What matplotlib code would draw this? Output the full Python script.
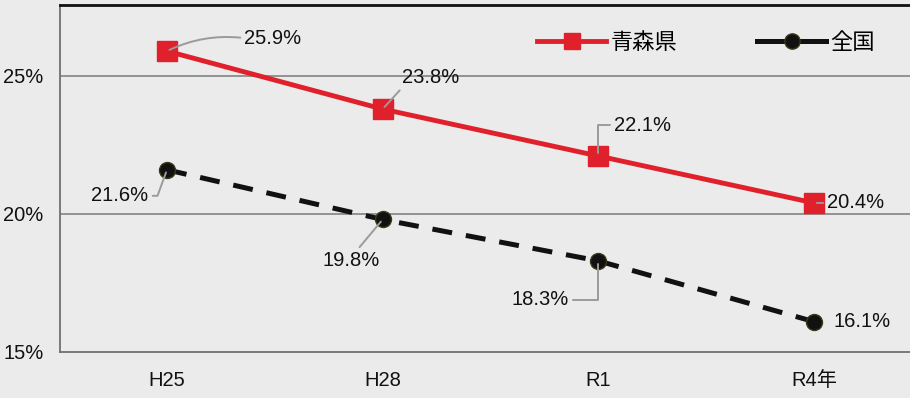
import numpy as np
import matplotlib.pyplot as plt

years = ["H25", "H28", "R1", "R4年"]
aomori = [25.9, 23.8, 22.1, 20.4]
national = [21.6, 19.8, 18.3, 16.1]
series_names = ["青森県", "全国"]

# label offsets from each marker (pixels) and leader line settings
aomori_offsets = [(106, 13), (48, 32), (44, 31), (42, 0)]
aomori_leaders = [("arc3,rad=0.15", (0, 0.5)),
                  ("arc3,rad=0", (0.05, 0.1)),
                  ("angle,angleA=0,angleB=90,rad=0", (0, 0.5)),
                  ("arc3,rad=0", (0, 0.5))]
national_offsets = [(-47, -26), (-32, -41), (-58, -39), (48, 0)]
national_leaders = [("angle,angleA=0,angleB=70,rad=0", (1, 0.5)),
                    ("arc3,rad=0", (0.6, 1.0)),
                    ("angle,angleA=0,angleB=90,rad=0", (1, 0.5)),
                    None]

BG = "#ebebeb"
RED = "#e0202a"
FONT = ["Liberation Sans", "Noto Sans CJK JP", "DejaVu Sans"]
plt.rcParams["font.family"] = FONT

fig = plt.figure(figsize=(9.1, 3.98), dpi=100, facecolor=BG)
ax = fig.add_axes([60 / 910, 1 - 352 / 398, 850 / 910, 347 / 398])
ax.set_facecolor(BG)

x = np.arange(len(years))
ax.plot(x, aomori, color=RED, lw=3.5, marker="s", ms=14,
        mfc=RED, mec=RED, label=series_names[0], zorder=4)
ax.plot(x, national, color="#111111", lw=3.6, ls=(0, (4, 2.8)), marker="o",
        ms=11.5, mfc="#111111", mec="#3a3a1a", label=series_names[1], zorder=4)

ax.set_xlim(-0.496, 3.445)
ax.set_ylim(15, 27.57)
ax.set_xticks(x)
ax.set_xticklabels(years)
ax.set_yticks([15, 20, 25])
ax.set_yticklabels(["15%", "20%", "25%"])
ax.tick_params(length=0, labelsize=14.5, colors="#111111")
ax.tick_params(axis="x", pad=14)
ax.tick_params(axis="y", pad=12)

for y in (20, 25):
    ax.axhline(y, color="#7a7a7a", lw=1.1, zorder=1)

for side in ("left", "bottom"):
    ax.spines[side].set_color("#707070")
    ax.spines[side].set_linewidth(1.3)
ax.spines["top"].set_color("#111111")
ax.spines["top"].set_linewidth(2)
ax.spines["right"].set_visible(False)


def label_points(vals, offsets, leaders):
    for i, v in enumerate(vals):
        dx, dy = offsets[i]
        props = None
        if leaders[i] is not None:
            conn, rel = leaders[i]
            props = dict(arrowstyle="-", color="#9a9a9a", lw=1.4,
                         connectionstyle=conn, relpos=rel,
                         shrinkA=1, shrinkB=2)
        ax.annotate(f"{v:.1f}%", xy=(x[i], v), xytext=(dx, dy),
                    textcoords="offset pixels", ha="center", va="center",
                    fontsize=14.5, color="#111111", arrowprops=props,
                    zorder=5)


label_points(aomori, aomori_offsets, aomori_leaders)
label_points(national, national_offsets, national_leaders)

leg = ax.legend(loc="center right", bbox_to_anchor=(0.972, 0.893), ncol=2,
                frameon=False, handlelength=3.1,
                handletextpad=0.2, columnspacing=3.6, borderpad=0,
                prop={"family": ["Noto Sans CJK JP", "DejaVu Sans"], "size": 16})
for h in leg.legend_handles:
    h.set_markersize(11)
leg.legend_handles[1].set_linestyle("-")

fig.savefig("out.png", dpi=100, facecolor=BG)
